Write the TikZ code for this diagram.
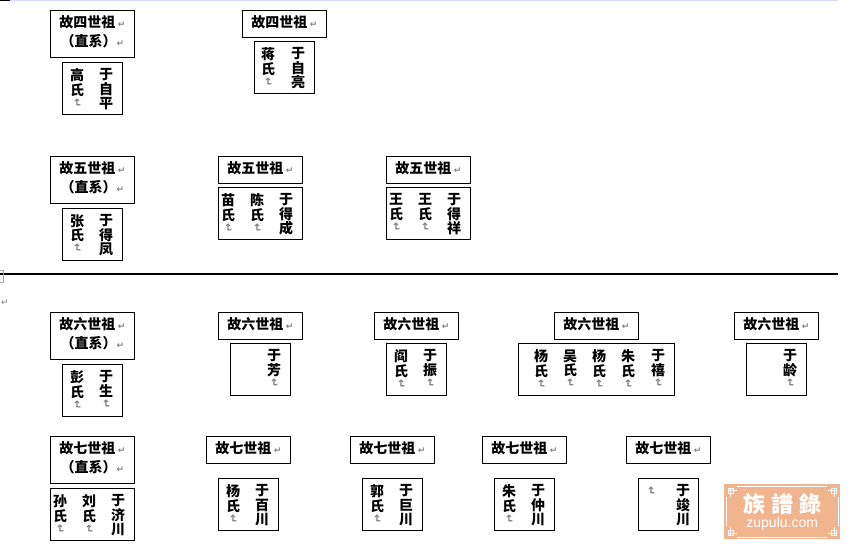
\documentclass[tikz,border=0pt]{standalone}
\usepackage{fontspec}
\usepackage{graphicx}
\usetikzlibrary{positioning}
\newfontfamily\cjk{Noto Sans CJK SC}
\newfontfamily\cjktc{Noto Sans CJK TC}
\newfontfamily\markfont{DejaVu Sans}
\newcommand{\retmark}{{\markfont\fontsize{9}{9}\selectfont\textcolor{gray}{↵}}}
\newcommand{\vmark}{\raisebox{11.5pt}[0pt][0pt]{\rotatebox{-90}{\markfont\fontsize{11}{11}\selectfont\textcolor{gray}{↵}}}}
\definecolor{logoorange}{HTML}{F0B48F}
\tikzset{
	headbox/.style={draw, line width=0.8pt, anchor=north west, minimum width=84pt, minimum height=27pt, inner sep=0pt, text depth=5pt, align=center, font=\cjk\bfseries\fontsize{14}{19}\selectfont},
	headtall/.style={headbox, minimum height=47pt},
	namebox/.style={draw, line width=0.8pt, anchor=north west, minimum height=52pt, inner sep=0pt},
	namecol/.style={anchor=north, inner sep=0pt, align=center, font=\cjk\bfseries\fontsize{14}{14.5}\selectfont}
}

\begin{document}
\begin{tikzpicture}[x=1pt, y=-1pt]
		\useasboundingbox (0,0) rectangle (855,544);
		% page marks
		\draw[color=blue!15, line width=1pt] (10,0.5) -- (838,0.5);
		\draw[line width=1.5pt] (0,0.7) -- (10,0.7);
		\draw[line width=2pt] (0,274) -- (838,274);
		\draw[color=gray!70, line width=0.5pt] (0,270) -- (3,270) -- (3,282) -- (0,282);
		\node[inner sep=0pt] (pilcrow) at (5,303) {\retmark};
		% ancestors
		\foreach \n/\x/\y/\t in {h4/50/10/四, h5/50/156/五, h6/50/312/六, h7/50/436/七}
			\node[headtall] (\n) at (\x,\y) {故\t 世祖\,\retmark\\（直系）\retmark};
		\foreach \n/\x/\y/\t in {h4b/242/10/四, h5b/218/156/五, h5c/386/156/五,
			h6b/218/312/六, h6c/374/312/六, h6d/554/312/六, h6e/734/312/六,
			h7b/206/436/七, h7c/350/436/七, h7d/482/436/七, h7e/626/436/七}
			\node[headbox] (\n) at (\x,\y) {故\t 世祖\,\retmark};
		% name boxes
		\foreach \n/\x/\y/\w in {n4/62/62/60, n4b/254/41/60, n5/62/208/60, n5b/218/187/84, n5c/386/187/84,
			n6/62/364/60, n6b/230/343/60, n6c/386/343/60, n6d/518/343/156, n6e/746/343/60,
			n7/50/488/84, n7b/218/478/60, n7c/362/478/60, n7d/494/478/60, n7e/638/478/60}
			\node[namebox, minimum width=\w pt] (\n) at (\x,\y) {};
		% names
		\foreach \b/\i/\dx/\s in {n4/a/15/{高\\氏\\\vmark}, n4/b/44/{于\\自\\平},
			n4b/a/14/{蒋\\氏\\\vmark}, n4b/b/44/{于\\自\\亮},
			n5/a/15/{张\\氏\\\vmark}, n5/b/44/{于\\得\\凤},
			n5b/a/10/{苗\\氏\\\vmark}, n5b/b/39/{陈\\氏\\\vmark}, n5b/c/68/{于\\得\\成},
			n5c/a/10/{王\\氏\\\vmark}, n5c/b/39/{王\\氏\\\vmark}, n5c/c/68/{于\\得\\祥},
			n6/a/15/{彭\\氏\\\vmark}, n6/b/44/{于\\生\\\vmark},
			n6b/b/44/{于\\芳\\\vmark},
			n6c/a/15/{阎\\氏\\\vmark}, n6c/b/44/{于\\振\\\vmark},
			n6d/a/23/{杨\\氏\\\vmark}, n6d/b/52/{吴\\氏\\\vmark}, n6d/c/81/{杨\\氏\\\vmark}, n6d/d/110/{朱\\氏\\\vmark}, n6d/e/140/{于\\禧\\\vmark},
			n6e/b/44/{于\\龄\\\vmark},
			n7/a/10/{孙\\氏\\\vmark}, n7/b/39/{刘\\氏\\\vmark}, n7/c/68/{于\\济\\川},
			n7b/a/15/{杨\\氏\\\vmark}, n7b/b/44/{于\\百\\川},
			n7c/a/15/{郭\\氏\\\vmark}, n7c/b/44/{于\\巨\\川},
			n7d/a/15/{朱\\氏\\\vmark}, n7d/b/44/{于\\仲\\川},
			n7e/a/13/{\rule{0pt}{13pt}\vmark}, n7e/b/45/{于\\竣\\川}}
			\node[namecol] (\b-\i) at ([xshift=\dx pt, yshift=-6.5pt]\b.north west) {\s};
		% logo
		\node[fill=logoorange, anchor=north west, minimum width=116pt, minimum height=55pt, inner sep=0pt] (logo) at (724,484) {};
		\draw[white, line width=0.8pt] ([xshift=2.5pt,yshift=-2.5pt]logo.north west) rectangle ([xshift=-2.5pt,yshift=2.5pt]logo.south east);
		\foreach \c/\sx/\sy in {north west/1/-1, north east/-1/-1, south west/1/1, south east/-1/1} {
			\fill[logoorange] ([xshift=\sx*1pt,yshift=\sy*1pt]logo.\c) rectangle ([xshift=\sx*13pt,yshift=\sy*13pt]logo.\c);
			\draw[white, line width=0.7pt] ([xshift=\sx*4pt,yshift=\sy*4pt]logo.\c) rectangle ([xshift=\sx*9pt,yshift=\sy*9pt]logo.\c);
			\draw[white, line width=0.7pt] ([xshift=\sx*6.5pt,yshift=\sy*4pt]logo.\c) -- ([xshift=\sx*6.5pt,yshift=\sy*12.5pt]logo.\c);
			\draw[white, line width=0.7pt] ([xshift=\sx*4pt,yshift=\sy*6.5pt]logo.\c) -- ([xshift=\sx*12.5pt,yshift=\sy*6.5pt]logo.\c);
		}
		\node[white, inner sep=0pt, font=\cjktc\bfseries\fontsize{22}{22}\selectfont] (logocn) at ([yshift=7.5pt]logo.center) {族\;譜\;錄};
		\node[white, inner sep=0pt, font=\fontspec{Liberation Sans}\fontsize{14}{14}\selectfont] (logoen) at ([yshift=-12.5pt]logo.center) {zupulu.com};
	\end{tikzpicture}
\end{document}
